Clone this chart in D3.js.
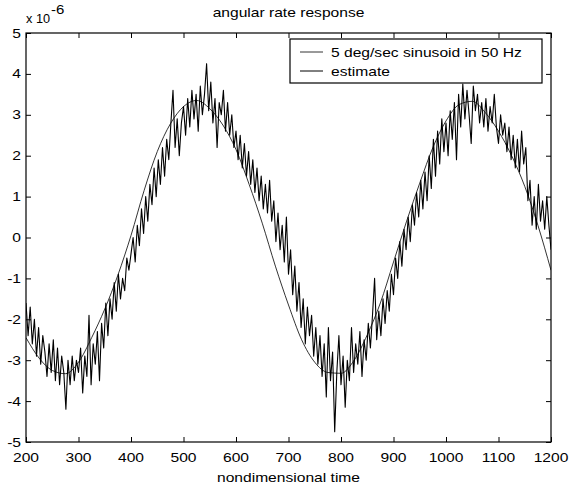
<!DOCTYPE html>
<html>
<head>
<meta charset="utf-8">
<script src="https://cdn.jsdelivr.net/npm/d3@7/dist/d3.min.js"></script>
<style>
  body { margin: 0; background: #fff; }
  text { font-family: "Liberation Sans", Arial, Helvetica, sans-serif; fill: #000; }
</style>
</head>
<body>
<div id="chart"></div>
<script>
const sineTime = d3.range(200, 1201, 25);
const sineValues = [
  -2.45, -2.95, -3.25, -3.33, -3.05, -2.45, -1.75, -0.92, 0.05, 1.15,
  2.1, 2.78, 3.2, 3.35, 3.15, 2.75, 2.15, 1.3, 0.35, -0.7,
  -1.65, -2.5, -3.05, -3.3, -3.32, -3.0, -2.38, -1.6, -0.6, 0.4,
  1.33, 2.2, 2.85, 3.25, 3.33, 3.05, 2.6, 2.0, 1.25, 0.3,
  -0.8
];

// noisy estimate, sampled every 4 time units (200 .. 1200)
const estTime = d3.range(200, 1201, 4);
const estValues = [
  // 200 - 296
  -1.6, -2.4, -1.7, -2.6, -2.0, -2.9, -2.2, -3.1, -2.4, -2.8, -3.4, -2.6, -3.3,
  -2.5, -3.5, -2.7, -3.6, -2.9, -3.3, -4.2, -3.0, -3.6, -2.9, -3.5, -3.0,
  // 300 - 396
  -3.3, -2.7, -3.8, -2.9, -3.4, -1.9, -3.6, -2.6, -3.1, -2.3, -3.5, -2.1, -2.7,
  -1.6, -2.4, -1.5, -2.0, -1.1, -1.8, -0.9, -1.5, -1.0, -1.3, -0.5, -0.8,
  // 400 - 496
  -0.4, 0.0, -0.6, 0.3, -0.2, 0.7, 0.1, 1.0, 0.4, 1.3, 0.8, 1.7, 1.0,
  1.9, 1.3, 2.2, 1.5, 2.4, 1.9, 2.8, 3.6, 2.2, 2.9, 2.0, 2.8,
  // 500 - 596
  3.2, 2.5, 3.4, 2.7, 3.6, 2.9, 3.5, 2.6, 3.7, 3.0, 3.5, 4.25, 3.1,
  3.8, 2.8, 3.4, 2.2, 3.3, 3.0, 3.6, 2.6, 3.3, 2.5, 3.0, 2.2,
  // 600 - 696
  2.6, 1.9, 2.5, 1.7, 2.3, 1.5, 2.1, 1.3, 1.9, 1.1, 1.7, 0.9, 1.5,
  0.7, 1.3, 0.6, 1.4, 0.4, 0.9, -0.1, 0.6, -0.3, 0.3, -0.6, 0.5,
  // 700 - 796
  -0.9, -0.3, -1.4, -0.7, -1.8, -1.1, -2.2, -1.5, -2.6, -1.7, -2.4, -1.9, -2.9,
  -2.2, -3.1, -2.4, -3.4, -2.6, -3.9, -2.2, -3.5, -2.8, -4.75, -3.3, -2.4,
  // 800 - 896
  -3.6, -2.9, -4.15, -3.0, -3.5, -2.2, -3.3, -2.6, -3.1, -2.3, -3.4, -2.5, -3.0,
  -2.1, -2.7, -1.9, -1.0, -2.5, -1.8, -2.4, -1.5, -2.1, -1.3, -1.8, -0.9,
  // 900 - 996
  -1.4, -0.5, -1.0, -0.1, -0.7, 0.2, -0.3, 0.5, -0.1, 0.8, 0.3, 1.1, 0.5,
  1.4, 0.7, 1.6, 0.9, 2.0, 1.2, 2.4, 1.5, 2.6, 1.8, 2.9, 2.1,
  // 1000 - 1096
  2.8, 2.0, 3.1, 2.4, 3.3, 1.9, 3.5, 2.7, 3.75, 2.9, 3.6, 3.0, 2.3,
  3.7, 3.1, 3.5, 2.8, 3.3, 2.7, 3.4, 2.6, 3.2, 2.8, 3.5, 2.7,
  // 1100 - 1200
  2.3, 3.0, 2.5, 2.8, 2.1, 2.7, 1.9, 2.5, 1.7, 2.4, 1.6, 2.6, 1.8,
  2.2, 0.9, 1.4, 0.3, 1.0, 0.2, 1.3, 0.4, 0.9, 0.2, 1.0, 0.3, -0.3
];

const xTicks = [200, 300, 400, 500, 600, 700, 800, 900, 1000, 1100, 1200];
const yTicks = [-5, -4, -3, -2, -1, 0, 1, 2, 3, 4, 5];
const legendLabels = ["5 deg/sec sinusoid in 50 Hz", "estimate"];

function drawChart() {
  const margin = ({top: 33, right: 18, bottom: 45, left: 26});
  const visWidth = 525;
  const visHeight = 409;
  const fontSize = 12.5;
  const stretch = 1.25;   // the original figure is stretched sideways

  const sine = sineTime.map((t, i) => ({t: t, v: sineValues[i]}));
  const est = estTime.map((t, i) => ({t: t, v: estValues[i]}));

  const x = d3.scaleLinear().domain([200, 1200]).range([0, visWidth]);
  const y = d3.scaleLinear().domain([-5, 5]).range([visHeight, 0]);

  const svg = d3.select("#chart")
    .append("svg")
    .attr("width", 569)
    .attr("height", 487);

  const g = svg.append("g")
    .attr("transform", `translate(${margin.left}, ${margin.top})`);

  // stretched text helper
  const label = (parent, px, py, str, anchor, sx = stretch) => parent.append("g")
      .attr("transform", `translate(${px}, ${py}) scale(${sx}, 1)`)
    .append("text")
      .attr("text-anchor", anchor)
      .style("font-size", fontSize + "px")
      .text(str);

  g.append("clipPath").attr("id", "clip")
    .append("rect").attr("width", visWidth).attr("height", visHeight);

  // lines
  const line = d3.line().x(d => x(d.t)).y(d => y(d.v));

  g.append("path")
    .datum(sine)
    .attr("clip-path", "url(#clip)")
    .attr("fill", "none")
    .attr("stroke", "#000")
    .attr("stroke-width", 0.8)
    .attr("d", line.curve(d3.curveMonotoneX));

  g.append("path")
    .datum(est)
    .attr("clip-path", "url(#clip)")
    .attr("fill", "none")
    .attr("stroke", "#000")
    .attr("stroke-width", 1.1)
    .attr("stroke-linejoin", "round")
    .attr("d", line.curve(d3.curveLinear));

  // axes, ticks pointing inward
  const styleAxis = a => a
    .call(a => a.select(".domain").remove())
    .call(a => a.selectAll(".tick line").attr("stroke", "#000"));

  g.append("g")
    .attr("transform", `translate(0, ${visHeight})`)
    .call(d3.axisBottom(x).tickValues(xTicks).tickSize(-5).tickFormat(""))
    .call(styleAxis);
  g.append("g")
    .call(d3.axisTop(x).tickValues(xTicks).tickSize(-5).tickFormat(""))
    .call(styleAxis);
  g.append("g")
    .call(d3.axisLeft(y).tickValues(yTicks).tickSize(-5).tickFormat(""))
    .call(styleAxis);
  g.append("g")
    .attr("transform", `translate(${visWidth}, 0)`)
    .call(d3.axisRight(y).tickValues(yTicks).tickSize(-5).tickFormat(""))
    .call(styleAxis);

  // tick labels
  xTicks.forEach(t => label(g, x(t), visHeight + 20, t, "middle"));
  yTicks.forEach(t => label(g, -5, y(t) + 4.5, t, "end"));

  // frame
  g.append("rect")
    .attr("width", visWidth)
    .attr("height", visHeight)
    .attr("fill", "none")
    .attr("stroke", "#000")
    .attr("stroke-width", 1.2);

  // exponent
  label(svg, 26, 23, "x 10", "start", 1.02);
  label(svg, 51, 14, "-6", "start", 1.2);

  // title and x label
  label(svg, margin.left + visWidth / 2, 17, "angular rate response", "middle");
  label(svg, margin.left + visWidth / 2, 482, "nondimensional time", "middle");

  // legend
  const legend = svg.append("g").attr("transform", "translate(290, 39)");
  legend.append("rect")
    .attr("width", 252)
    .attr("height", 44)
    .attr("fill", "#fff")
    .attr("stroke", "#000")
    .attr("stroke-width", 1.2);
  legendLabels.forEach((d, i) => {
    const ly = 13 + i * 19;
    legend.append("line")
      .attr("x1", 10).attr("x2", 33)
      .attr("y1", ly).attr("y2", ly)
      .attr("stroke", "#000")
      .attr("stroke-width", i === 0 ? 0.8 : 1);
    label(legend, 41, ly + 4.5, d, "start");
  });
}

window.onload = drawChart;
</script>
</body>
</html>
